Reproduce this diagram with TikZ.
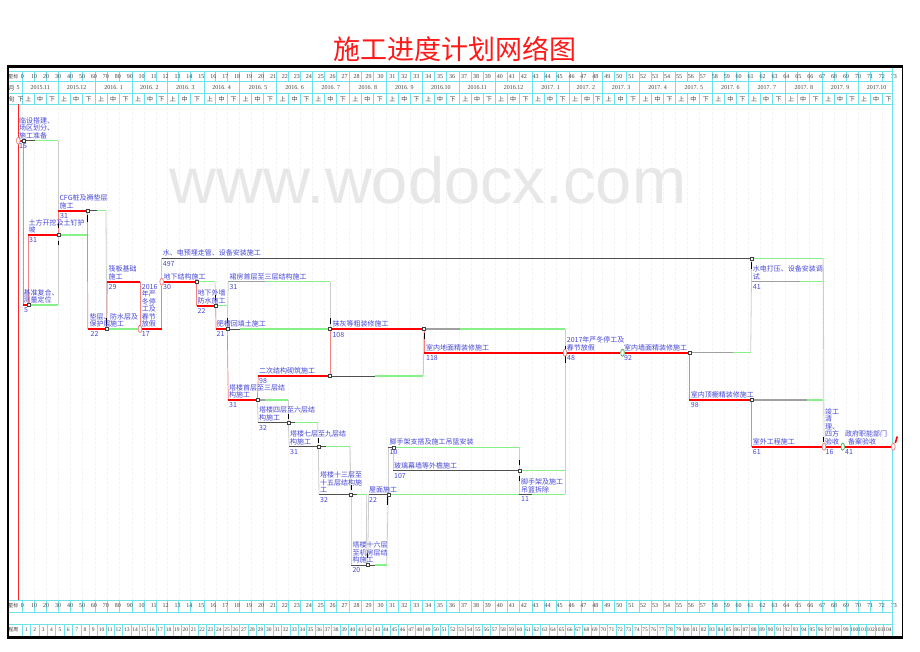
\documentclass[tikz,border=0pt]{standalone}
\usepackage{fontspec}
\setmainfont{Liberation Serif}
\newfontfamily\cjk{Noto Sans CJK SC}
\newfontfamily\wmfont{Liberation Sans}
\usetikzlibrary{shapes.geometric}
\definecolor{txtblue}{RGB}{70,70,215}
\definecolor{fltgreen}{RGB}{135,240,135}
\definecolor{cyn}{RGB}{110,225,235}
\definecolor{critred}{RGB}{255,0,0}
\definecolor{lnkred}{RGB}{240,130,130}
\definecolor{lnkgray}{RGB}{205,205,205}
\definecolor{wrk}{RGB}{80,80,80}
\definecolor{wrkgray}{RGB}{160,160,160}
\definecolor{wmk}{RGB}{231,231,231}
\newcommand\tk{\cjk\fontsize{7}{7.5}\selectfont}
\newcommand\hdn{\fontsize{6}{6}\selectfont}
\newcommand\hdc{\cjk\fontsize{6}{6}\selectfont}
\newcommand\tickat[3]{\draw[tickm] (#1,#2) -- (#1,#3);}
\begin{document}
\begin{tikzpicture}[x=1pt,y=-1pt,
  crit/.style={draw=critred, line width=2.2pt},
  clink/.style={draw=lnkred, line width=0.7pt},
  glink/.style={draw=lnkgray, line width=0.8pt},
  floatln/.style={draw=fltgreen, line width=1.1pt},
  wk/.style={draw=wrk, line width=0.9pt},
  wkg/.style={draw=wrkgray, line width=1.5pt},
  nd/.style={rectangle, draw=black!75, fill=white, minimum size=3pt, inner sep=0pt, line width=0.5pt},
  nde/.style={ellipse, draw=lnkred, fill=white, minimum width=3.5pt, minimum height=7pt, inner sep=0pt, line width=0.6pt},
  ndg/.style={ellipse, draw=green!55!black!70, fill=white, minimum width=3.5pt, minimum height=7pt, inner sep=0pt, line width=0.6pt},
  tl/.style={font=\tk, text=txtblue, anchor=south west, inner sep=0pt, align=left},
  dl/.style={font=\tk, text=txtblue, anchor=north west, inner sep=0pt},
  hdtxt/.style={font=\hdn, text=black!75, inner sep=0pt},
  hdcn/.style={font=\hdc, text=black!75, inner sep=0pt},
  tickm/.style={draw=black, line width=0.9pt},
  cline/.style={draw=cyn, line width=0.5pt},
  gridln/.style={draw=black!7, line width=0.4pt, dash pattern=on 1pt off 1.5pt}]
\useasboundingbox (0,0) rectangle (920,651);
\fill[white] (0,0) rectangle (920,651);

% title and watermark
\node[font=\cjk\fontsize{27}{27}\selectfont, text=red!90!white] (title) at (455,49) {施工进度计划网络图};
\node[font=\wmfont\fontsize{65}{65}\selectfont, text=wmk] (wmark) at (428,180) {www.wodocx.com};

% months, xun, grid
\foreach \s/\e/\m in {0/30/2015.11, 30/61/2015.12, 61/92/2016. 1, 92/121/2016. 2, 121/152/2016. 3, 152/182/2016. 4, 182/213/2016. 5, 213/243/2016. 6, 243/274/2016. 7, 274/305/2016. 8, 305/335/2016. 9, 335/366/2016.10, 366/396/2016.11, 396/427/2016.12, 427/458/2017. 1, 458/486/2017. 2, 486/517/2017. 3, 517/547/2017. 4, 547/578/2017. 5, 578/608/2017. 6, 608/639/2017. 7, 639/670/2017. 8, 670/700/2017. 9, 700/731/2017.10} {
  \pgfmathsetmacro\xs{22.3+1.194*\s}
  \pgfmathsetmacro\xe{22.3+1.194*\e}
  \pgfmathsetmacro\xa{22.3+1.194*(\s+10)}
  \pgfmathsetmacro\xb{22.3+1.194*(\s+20)}
  \pgfmathsetmacro\xm{(\xs+\xe)/2}
  \pgfmathsetmacro\xu{22.3+1.194*(\s+5)}
  \pgfmathsetmacro\xz{22.3+1.194*(\s+15)}
  \pgfmathsetmacro\xx{(\xb+\xe)/2}
  \foreach \gx in {\xs,\xa,\xb} {
    \draw[gridln] (\gx,104) -- (\gx,600);
    \draw[cline] (\gx,71.5) -- (\gx,81.5);
    \draw[cline] (\gx,93.5) -- (\gx,104);
    \draw[cline] (\gx,600) -- (\gx,612);
  }
  \draw[cline] (\xs,81.5) -- (\xs,93.5);
  \node[hdtxt] at (\xm,88) {\m};
  \node[hdcn] at (\xu,99) {上};
  \node[hdcn] at (\xz,99) {中};
  \node[hdcn] at (\xx,99) {下};
}
% scale labels
\foreach \k in {0,...,73} {
  \pgfmathsetmacro\xk{22.3+11.94*\k}
  \node[hdtxt] at (\xk,76.5) {\ifnum\k<10 \the\numexpr\k*10\relax\else\k\fi};
  \node[hdtxt] at (\xk,606) {\ifnum\k<10 \the\numexpr\k*10\relax\else\k\fi};
}
% weeks
\foreach \k in {1,...,104} {
  \pgfmathsetmacro\xk{22.3+8.36*(\k-0.5)}
  \node[hdtxt, font=\fontsize{5.5}{5.5}\selectfont] at (\xk,630) {\k};
}
\foreach \k in {0,...,104} {
  \pgfmathsetmacro\xk{22.3+8.36*\k}
  \draw[cline] (\xk,624) -- (\xk,636);
}
% header horizontal lines
\foreach \yy in {71.5,81.5,93.5,104,600,612,624,636} {
  \draw[cline] (8,\yy) -- (892,\yy);
}
\draw[cline] (892,66) -- (892,637);
% row titles
\node[hdcn, font=\cjk\fontsize{5}{5}\selectfont] at (13.5,76.5) {星标};
\node[hdcn] at (11.7,88) {月};
\node[hdtxt] at (18,88) {5};
\node[hdcn] at (11.7,99) {旬};
\node[hdcn] at (20.5,99) {下};
\node[hdcn, font=\cjk\fontsize{5}{5}\selectfont] at (13.5,606) {星标};
\node[hdcn, font=\cjk\fontsize{5}{5}\selectfont] at (13.5,630) {程周};
% red date line
\draw[red!85!white, line width=0.6pt] (18,104) -- (18,600);
% frame
\draw[black, line width=3pt] (6.8,66) -- (903.2,66);
\draw[black, line width=3pt] (6.8,637) -- (903.2,637);
\draw[black, line width=1.3pt] (8,66) -- (8,637);
\draw[black, line width=1.6pt] (902.5,66) -- (902.5,637);

% ===== network =====
% A
\node[nde] (nA0) at (18.3,140.7) {};
\node[nd] (nA1) at (23.3,140.7) {};
\coordinate (fA1) at (35,140.7);
\coordinate (fA2) at (58.3,140.7);
% B
\coordinate (cB0) at (23.3,305);
\node[nd] (nB1) at (28.3,305) {};
\coordinate (fB2) at (58.3,305);
% C
\coordinate (cC0) at (28.3,235);
\node[nd] (nC1) at (58.3,235) {};
\coordinate (fC2) at (87.3,235);
% D
\coordinate (cD0) at (58.3,210.7);
\node[nd] (nD1) at (87.3,210.7) {};
\coordinate (fD1) at (96.7,210.7);
\coordinate (fD2) at (106,210.7);
% E
\coordinate (cE0) at (87.8,329);
\node[nd] (nE1) at (106.7,329) {};
% G
\coordinate (cG0) at (107.3,281.7);
\coordinate (cG1) at (140,281.7);
% H
\node[nde] (nH0) at (140,329) {};
\coordinate (cH1) at (161.7,329);
% I
\node[nde] (nI0) at (161.7,281.7) {};
\node[nd] (nI1) at (196.7,281.7) {};
\coordinate (fI2) at (215,281.7);
% J
\coordinate (cJ0) at (161.7,258.3);
\node[nd] (nJ1) at (751.7,258.3) {};
\coordinate (fJ2) at (823.3,258.3);
% K
\coordinate (cK0) at (196.7,305.7);
\node[nd] (nK1) at (215.7,305.7) {};
\coordinate (fK2) at (227.3,305.7);
% L
\coordinate (cL0) at (216,329);
\node[nd] (nL1) at (227.3,329) {};
\coordinate (fL1) at (240,329);
% M
\coordinate (cM0) at (228.3,281.7);
\coordinate (fM1) at (265,281.7);
\coordinate (fM2) at (330,281.7);
% N
\node[nd] (nN0) at (330,329) {};
\node[nd] (nN1) at (424,329) {};
\coordinate (fN1) at (460,329);
\coordinate (fN2) at (565,329);
% O
\coordinate (cO0) at (228.3,400);
\node[nd] (nO1) at (257.3,400) {};
\coordinate (fO1) at (265,400);
\coordinate (fO2) at (288.3,400);
% P
\coordinate (cP0) at (258.3,376);
\node[nd] (nP1) at (330,376) {};
\coordinate (fP1) at (375,376);
\coordinate (fP2) at (423.3,376);
% Q
\coordinate (cQ0) at (258.3,422.7);
\node[nd] (nQ1) at (288.3,422.7) {};
\coordinate (fQ1) at (295,422.7);
\coordinate (fQ2) at (317.7,422.7);
% R
\coordinate (cR0) at (289.3,446.7);
\node[nd] (nR1) at (318.3,446.7) {};
\coordinate (fR1) at (326,446.7);
\coordinate (fR2) at (350,446.7);
% S
\coordinate (cS0) at (319,494.3);
\node[nd] (nS1) at (351,494.3) {};
\coordinate (fS1) at (356.7,494.3);
\coordinate (fS2) at (366.7,494.3);
% T
\coordinate (cT0) at (351,565);
\node[nd] (nT1) at (367.7,565) {};
\coordinate (fT1) at (375,565);
\coordinate (fT2) at (386.7,565);
\coordinate (cT2) at (366.2,565);
% U
\coordinate (cU0) at (368.7,494.3);
\node[nd] (nU1) at (388.3,494.3) {};
% V
\coordinate (cV0) at (388.3,447.3);
\node[nd] (nV1) at (393.3,447.3) {};
\coordinate (fV2) at (519.3,447.3);
% W
\coordinate (cW0) at (393.3,470.7);
\node[nd] (nW1) at (519.3,470.7) {};
\coordinate (fW2) at (565,470.7);
% X
\coordinate (cX0) at (519.3,494.3);
\coordinate (cX1) at (531.7,494.3);
\coordinate (fX2) at (565,494.3);
% Y, Z, AA
\coordinate (cY0) at (424,352.7);
\node[nde] (nZ0) at (565,352.7) {};
\node[ndg] (nAA0) at (622.5,352.7) {};
\node[nd] (nAA1) at (689.3,352.7) {};
\coordinate (fAA1) at (733.3,352.7);
\coordinate (fAA2) at (750.7,352.7);
% AB
\coordinate (cAB0) at (751.7,281.7);
\coordinate (fAB1) at (800,281.7);
\coordinate (fAB2) at (823.3,281.7);
% AC
\coordinate (cAC0) at (689.3,400);
\node[nd] (nAC1) at (751.7,400) {};
\coordinate (fAC1) at (806.7,400);
\coordinate (fAC2) at (823.3,400);
% AD, AE, AF
\coordinate (cAD0) at (751.7,446.7);
\node[nde] (nAE0) at (824,446.7) {};
\node[ndg] (nAF0) at (842.7,446.7) {};
\node[nde] (nEnd) at (893.3,446.7) {};
\coordinate (sl1) at (895.3,443);
\coordinate (sl2) at (897.2,436.5);

% ---- links (thin) ----
\draw[clink] (nA1) -- (cB0);
\draw[clink] (nB1) -- (cC0);
\draw[glink] (fA2) -- (nC1);
\draw[glink] (fB2) -- (nC1);
\draw[clink] (nC1) -- (cD0);
\draw[glink] (fC2) -- (nD1);
\draw[clink] (nD1) -- (cE0);
\draw[glink] (fD2) -- (nE1);
\draw[clink] (nE1) -- (cG0);
\draw[clink] (cG1) -- (nH0);
\draw[clink] (cH1) -- (nI0);
\draw[glink] (nI0) -- (cJ0);
\draw[clink] (nI1) -- (cK0);
\draw[glink] (fI2) -- (nK1);
\draw[clink] (nK1) -- (cL0);
\draw[glink] (fK2) -- (nL1);
\draw[glink] (nL1) -- (cM0);
\draw[glink] (fM2) -- (nN0);
\draw[clink] (nL1) -- (cO0);
\draw[clink] (nO1) -- (cP0);
\draw[clink] (nP1) -- (nN0);
\draw[glink] (fP2) -- (nN1);
\draw[glink] (nO1) -- (cQ0);
\draw[glink] (fO2) -- (nQ1);
\draw[glink] (nQ1) -- (cR0);
\draw[glink] (fQ2) -- (nR1);
\draw[glink] (nR1) -- (cS0);
\draw[glink] (fR2) -- (nS1);
\draw[glink] (nS1) -- (cT0);
\draw[glink] (fS2) -- (cT2);
\draw[glink] (nT1) -- (cU0);
\draw[glink] (fT2) -- (nU1);
\draw[glink] (nU1) -- (cV0);
\draw[glink] (nV1) -- (cW0);
\draw[glink] (fV2) -- (cX0);
\draw[glink] (fN2) -- (nZ0);
\draw[glink] (fX2) -- (nZ0);
\draw[clink] (nN1) -- (cY0);
\draw[glink] (fAA2) -- (nJ1);
\draw[glink] (nJ1) -- (cAB0);
\draw[clink] (nAA1) -- (cAC0);
\draw[clink] (nAC1) -- (cAD0);
\draw[glink] (fJ2) -- (nAE0);

% ---- floats ----
\draw[floatln] (fA1) -- (fA2);
\draw[floatln] (nB1) -- (fB2);
\draw[floatln] (nC1) -- (fC2);
\draw[floatln] (fD1) -- (fD2);
\draw[floatln] (nE1) -- (nH0);
\draw[floatln] (nI1) -- (fI2);
\draw[floatln] (nJ1) -- (fJ2);
\draw[floatln] (nK1) -- (fK2);
\draw[floatln] (fL1) -- (nN0);
\draw[floatln] (fM1) -- (fM2);
\draw[floatln] (fN1) -- (fN2);
\draw[floatln] (fO1) -- (fO2);
\draw[floatln] (fP1) -- (fP2);
\draw[floatln] (fQ1) -- (fQ2);
\draw[floatln] (fR1) -- (fR2);
\draw[floatln] (fS1) -- (fS2);
\draw[floatln] (fT1) -- (fT2);
\draw[floatln] (nU1) -- (cX0);
\draw[floatln] (nV1) -- (fV2);
\draw[floatln] (nW1) -- (fW2);
\draw[floatln] (cX1) -- (fX2);
\draw[floatln] (fAA1) -- (fAA2);
\draw[floatln] (fAB1) -- (fAB2);
\draw[floatln] (fAC1) -- (fAC2);

% ---- work bars ----
\draw[wk] (nA1) -- (fA1);
\draw[wk] (nD1) -- (fD1);
\draw[wk] (cJ0) -- (nJ1);
\draw[wk] (nL1) -- (fL1);
\draw[wkg] (cM0) -- (fM1);
\draw[wkg] (nN1) -- (fN1);
\draw[wkg] (nO1) -- (fO1);
\draw[wk] (nP1) -- (fP1);
\draw[wk] (cQ0) -- (nQ1);
\draw[wk] (nQ1) -- (fQ1);
\draw[wk] (cR0) -- (nR1);
\draw[wk] (nR1) -- (fR1);
\draw[wk] (cS0) -- (nS1);
\draw[wk] (nS1) -- (fS1);
\draw[wk] (cT0) -- (nT1);
\draw[wk] (nT1) -- (fT1);
\draw[wk] (cU0) -- (nU1);
\draw[wk] (cV0) -- (nV1);
\draw[wk] (cW0) -- (nW1);
\draw[wk] (cX0) -- (cX1);
\draw[wkg] (nAA1) -- (fAA1);
\draw[wkg] (cAB0) -- (fAB1);
\draw[wkg] (nAC1) -- (fAC1);

% ---- critical bars ----
\draw[crit] (nA0) -- (nA1);
\draw[crit] (cB0) -- (nB1);
\draw[crit] (cC0) -- (nC1);
\draw[crit] (cD0) -- (nD1);
\draw[crit] (cE0) -- (nE1);
\draw[crit] (cG0) -- (cG1);
\draw[crit] (nH0) -- (cH1);
\draw[crit] (nI0) -- (nI1);
\draw[crit] (cK0) -- (nK1);
\draw[crit] (cL0) -- (nL1);
\draw[crit] (nN0) -- (nN1);
\draw[crit] (cO0) -- (nO1);
\draw[crit] (cP0) -- (nP1);
\draw[crit] (cY0) -- (nZ0);
\draw[crit] (nZ0) -- (nAA0);
\draw[crit] (nAA0) -- (nAA1);
\draw[crit] (cAC0) -- (nAC1);
\draw[crit] (cAD0) -- (nAE0);
\draw[crit] (nAE0) -- (nAF0);
\draw[crit] (nAF0) -- (nEnd);
\draw[red, line width=1.6pt] (sl1) -- (sl2);

% ---- arrow ticks ----
\tickat{58.3}{223}{228}
\tickat{58.3}{240.7}{245}
\tickat{87.3}{215}{222}
\tickat{106}{318}{326}
\tickat{139.5}{325}{332}
\tickat{215}{295}{300}
\tickat{227.3}{318}{323}
\tickat{330}{318}{324}
\tickat{424}{333}{339}
\tickat{288.3}{414}{419}
\tickat{318.3}{438}{443}
\tickat{351}{485}{490}
\tickat{367.7}{553}{558}
\tickat{387.7}{497}{505}
\tickat{519.3}{460}{465}
\tickat{519.3}{476}{481}
\tickat{565}{346}{350}
\tickat{565}{356}{363}
\tickat{751.2}{262}{269}
\tickat{823.3}{437}{442}

% redraw node markers on top
\foreach \n in {nA1,nB1,nC1,nD1,nE1,nI1,nJ1,nK1,nL1,nN0,nN1,nO1,nP1,nQ1,nR1,nS1,nT1,nU1,nV1,nW1,nAA1,nAC1} {
  \node[nd] at (\n) {};
}
\foreach \n in {nA0,nH0,nI0,nZ0,nAE0,nEnd} {\node[nde] at (\n) {};}
\foreach \n in {nAA0,nAF0} {\node[ndg] at (\n) {};}

% ---- texts ----
\node[tl] (tA) at (19,139) {临设搭建、\\场区划分、\\施工准备};
\node[dl] (dA) at (19,143) {15};
\node[tl] (tB) at (23.3,303.5) {基准复合、\\测量定位};
\node[dl] (dB) at (24,307.5) {5};
\node[tl] (tC) at (28.3,233.5) {土方开挖及土钉护\\坡};
\node[dl] (dC) at (29,237.5) {31};
\node[tl] (tD) at (59.3,209) {CFG桩及褥垫层\\施工};
\node[dl] (dD) at (60,213) {31};
\node[tl] (tE) at (89.3,327.5) {垫层、\\保护层};
\node[dl] (dE) at (90.5,331.5) {22};
\node[tl] (tF) at (110,327.5) {防水层及\\施工};
\node[tl] (tG) at (108.3,280) {筏板基础\\施工};
\node[dl] (dG) at (108.5,284) {29};
\node[tl] (tH) at (141.7,327.5) {2016\\年严\\冬停\\工及\\春节\\放假};
\node[dl] (dH) at (141.7,331.5) {17};
\node[tl] (tI) at (163.3,280) {地下结构施工};
\node[dl] (dI) at (163,284.5) {30};
\node[tl] (tJ) at (162.7,256.7) {水、电预埋走管、设备安装施工};
\node[dl] (dJ) at (162.7,261) {497};
\node[tl] (tK) at (197.3,304) {地下外墙\\防水施工};
\node[dl] (dK) at (197.5,308.2) {22};
\node[tl] (tL) at (216.7,327.5) {肥槽回填土施工};
\node[dl] (dL) at (216.5,331.5) {21};
\node[tl] (tM) at (229.3,280) {裙房首层至三层结构施工};
\node[dl] (dM) at (229.3,284.2) {31};
\node[tl] (tN) at (332.3,327.5) {抹灰等粗装修施工};
\node[dl] (dN) at (332.3,331.8) {108};
\node[tl] (tO) at (229,398.5) {塔楼首层至三层结\\构施工};
\node[dl] (dO) at (229,402.5) {31};
\node[tl] (tP) at (259,374.5) {二次结构砌筑施工};
\node[dl] (dP) at (259,378.5) {98};
\node[tl] (tQ) at (259,421) {塔楼四层至六层结\\构施工};
\node[dl] (dQ) at (259,425.2) {32};
\node[tl] (tR) at (290,445) {塔楼七层至九层结\\构施工};
\node[dl] (dR) at (290,449.2) {31};
\node[tl] (tS) at (320,492.8) {塔楼十三层至\\十五层结构施\\工};
\node[dl] (dS) at (320,497) {32};
\node[tl] (tT) at (352.3,563.5) {塔楼十六层\\至机房层结\\构施工};
\node[dl] (dT) at (352.3,567.5) {20};
\node[tl] (tU) at (369,492.8) {屋面施工};
\node[dl] (dU) at (369,497) {22};
\node[tl] (tV) at (389.3,445.7) {脚手架支搭及施工吊篮安装};
\node[dl] (dV) at (389.5,449.7) {10};
\node[tl] (tW) at (394,469) {玻璃幕墙等外檐施工};
\node[dl] (dW) at (394,473.2) {107};
\node[tl] (tX) at (521,492.8) {脚手架及施工\\吊篮拆除};
\node[dl] (dX) at (521,496.5) {11};
\node[tl] (tY) at (426,351) {室内地面精装修施工};
\node[dl] (dY) at (426,355) {118};
\node[tl] (tZ) at (566.7,351.2) {2017年严冬停工及\\春节放假};
\node[dl] (dZ) at (567,355) {48};
\node[tl] (tAA) at (624,351.2) {室内墙面精装修施工};
\node[dl] (dAA) at (624,355.5) {92};
\node[tl] (tAB) at (752.7,280) {水电打压、设备安装调\\试};
\node[dl] (dAB) at (752.7,284.2) {41};
\node[tl] (tAC) at (690.7,398.5) {室内顶棚精装修施工};
\node[dl] (dAC) at (690.7,402.5) {98};
\node[tl] (tAD) at (752.7,445) {室外工程施工};
\node[dl] (dAD) at (752.7,449.5) {61};
\node[tl] (tAE) at (825,445) {竣工\\清\\理、\\四方\\验收};
\node[dl] (dAE) at (825.5,449.5) {16};
\node[tl] (tAF) at (845,445) {政府职能部门\\\hspace{3pt}备案验收};
\node[dl] (dAF) at (845,449.5) {41};
\end{tikzpicture}
\end{document}
